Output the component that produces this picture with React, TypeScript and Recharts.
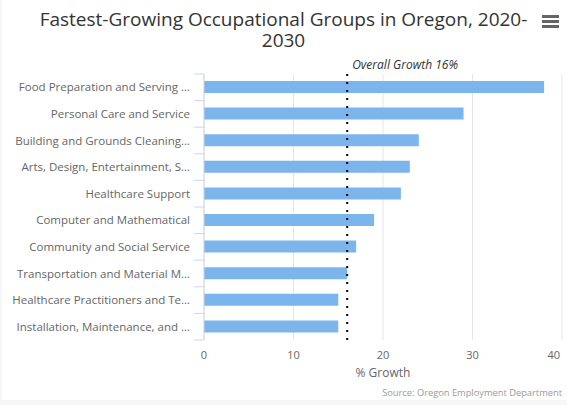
import React from 'react';
import { BarChart, Bar, XAxis, YAxis, CartesianGrid, ReferenceLine, Label } from 'recharts';

// Occupational groups (labels as shown, already truncated on the chart)
const categories = [
  'Food Preparation and Serving …',
  'Personal Care and Service',
  'Building and Grounds Cleaning…',
  'Arts, Design, Entertainment, S…',
  'Healthcare Support',
  'Computer and Mathematical',
  'Community and Social Service',
  'Transportation and Material M…',
  'Healthcare Practitioners and Te…',
  'Installation, Maintenance, and …',
];

// % growth 2020-2030
const growth = [38, 29, 24, 23, 22, 19, 17, 16, 15, 15];

const xTicks = [0, 10, 20, 30, 40];
const overallGrowth = 16;

const titleLines = ['Fastest-Growing Occupational Groups in Oregon, 2020-', '2030'];

const FONT = '"Open Sans", "Noto Sans", sans-serif';
const BAND = 26.6;

const data = categories.map((name, i) => ({ name, value: growth[i] }));

const CategoryTick = (props: any) => {
  const { x, y, payload, index } = props;
  const last = index === categories.length - 1;
  return (
    <g>
      <line x1={x - 10} x2={x} y1={y - BAND / 2} y2={y - BAND / 2} stroke="#ccd6eb" />
      {last && <line x1={x - 10} x2={x} y1={y + BAND / 2} y2={y + BAND / 2} stroke="#ccd6eb" />}
      <text x={x - 14} y={y} dy="0.35em" textAnchor="end" fill="#666" fontSize={11.5} fontFamily={FONT}>
        {payload.value}
      </text>
    </g>
  );
};

const ValueTick = (props: any) => {
  const { x, y, payload, index } = props;
  const last = index === xTicks.length - 1;
  return (
    <text
      x={last ? x + 1 : x}
      y={y}
      dy="0.71em"
      textAnchor={last ? 'end' : 'middle'}
      fill="#666"
      fontSize={11}
      fontFamily={FONT}
    >
      {payload.value}
    </text>
  );
};

const RefLabel = (props: any) => {
  const { viewBox } = props;
  return (
    <text
      x={viewBox.x + 5}
      y={viewBox.y - 5}
      fill="#333"
      fontSize={12}
      fontStyle="italic"
      fontFamily={FONT}
    >
      {`Overall Growth ${overallGrowth}%`}
    </text>
  );
};

export default function App() {
  return (
    <div style={{ position: 'absolute', left: 0, top: 0, width: 567, height: 405, background: '#f7f7f7', fontFamily: FONT }}>
      <div style={{ position: 'absolute', left: 2, top: 0, width: 565, height: 400, background: '#fff' }} />
      {titleLines.map((line, i) => (
        <div
          key={i}
          style={{
            position: 'absolute',
            left: 0,
            top: 9 + i * 21,
            width: 567,
            height: 20,
            textAlign: 'center',
            fontSize: 19,
            lineHeight: '20px',
            color: '#333',
          }}
        >
          {line}
        </div>
      ))}
      <div style={{ position: 'absolute', left: 542, top: 15 }}>
        {[0, 5, 10].map((t) => (
          <div key={t} style={{ position: 'absolute', left: 0, top: t, width: 17, height: 3, background: '#666' }} />
        ))}
      </div>
      <div style={{ position: 'absolute', left: 0, top: 0 }}>
        <BarChart
          width={567}
          height={405}
          data={data}
          layout="vertical"
          margin={{ top: 74, right: 5, bottom: 0, left: 0 }}
        >
          <CartesianGrid horizontal={false} stroke="#e6e6e6" />
          <XAxis
            type="number"
            domain={[0, 40]}
            ticks={xTicks}
            axisLine={false}
            tickLine={false}
            tickSize={0}
            tickMargin={11}
            height={65}
            tick={<ValueTick />}
          >
            <Label value="% Growth" position="insideTop" offset={28} fill="#666" fontSize={12} fontFamily={FONT} />
          </XAxis>
          <YAxis
            type="category"
            dataKey="name"
            width={204}
            axisLine={{ stroke: '#ccd6eb' }}
            tickLine={false}
            tickSize={0}
            tickMargin={0}
            interval={0}
            tick={<CategoryTick />}
          />
          <Bar dataKey="value" fill="#7cb5ec" barSize={12} isAnimationActive={false} />
          <ReferenceLine
            x={overallGrowth}
            stroke="#000"
            strokeWidth={2}
            strokeDasharray="2 6"
            label={<RefLabel />}
          />
        </BarChart>
      </div>
      <div
        style={{
          position: 'absolute',
          right: 5,
          top: 386,
          fontSize: 9.3,
          color: '#999',
          whiteSpace: 'nowrap',
        }}
      >
        Source: Oregon Employment Department
      </div>
    </div>
  );
}
